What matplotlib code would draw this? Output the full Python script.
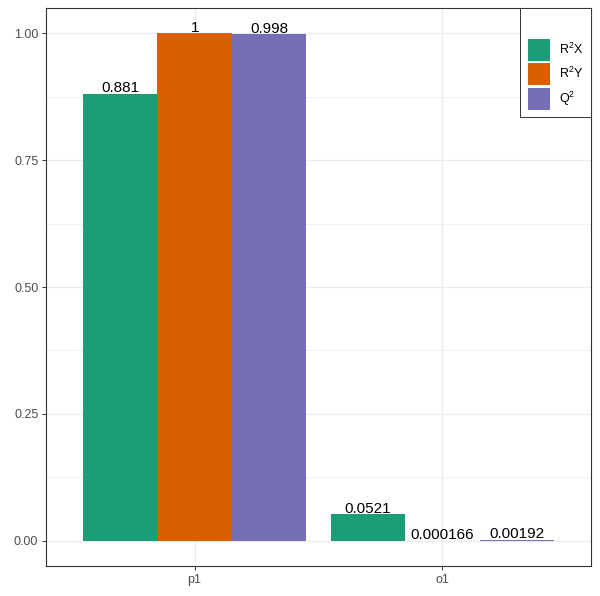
import matplotlib
matplotlib.use("Agg")
import matplotlib.pyplot as plt
from matplotlib.patches import Patch
import numpy as np

# data
components = ["p1", "o1"]
series = ["R$^2$X", "R$^2$Y", "Q$^2$"]
r2x = [0.881, 0.0521]
r2y = [1.0, 0.000166]
q2 = [0.998, 0.00192]
value_labels = [["0.881", "0.0521"], ["1", "0.000166"], ["0.998", "0.00192"]]
colors = ["#1B9E77", "#D95F02", "#7570B3"]

plt.rcParams["font.family"] = ["Liberation Sans", "DejaVu Sans"]
plt.rcParams["mathtext.default"] = "regular"

fig = plt.figure(figsize=(6.0, 5.96), dpi=100)
ax = fig.add_axes([46 / 600, 30 / 596, 545 / 600, 558 / 596])

x = np.arange(1, len(components) + 1)
w = 0.3
vals = [r2x, r2y, q2]
for i, (v, c) in enumerate(zip(vals, colors)):
    pos = x + (i - 1) * w
    ax.bar(pos, v, width=w, color=c, edgecolor="none", zorder=3)
    for px, py, lab in zip(pos, v, value_labels[i]):
        ax.annotate(lab, (px, py), xytext=(0, 1.2), textcoords="offset points",
                    ha="center", va="baseline", fontsize=11,
                    color="black", zorder=4)

ax.set_xlim(0.4, 2.6)
ax.set_ylim(-0.05, 1.05)
ax.set_xticks(x)
ax.set_xticklabels(components)
ax.set_yticks([0, 0.25, 0.5, 0.75, 1.0])
ax.set_yticklabels(["0.00", "0.25", "0.50", "0.75", "1.00"])
ax.set_yticks([0.125, 0.375, 0.625, 0.875], minor=True)

ax.grid(True, which="major", color="#EBEBEB", lw=0.8, zorder=0)
ax.grid(True, which="minor", axis="y", color="#EBEBEB", lw=0.5, zorder=0)
ax.tick_params(axis="both", which="major", length=3, width=0.7, color="#333333",
               labelcolor="#4D4D4D", labelsize=9, pad=2.5)
ax.tick_params(axis="both", which="minor", length=0)
for s in ax.spines.values():
    s.set_color("#333333")
    s.set_linewidth(0.8)

handles = [Patch(facecolor=c, edgecolor="none") for c in colors]
leg = ax.legend(handles, series, loc="upper right", borderaxespad=0,
                fontsize=9, handlelength=1.76, handleheight=2.33,
                labelspacing=0.2, handletextpad=0.75, borderpad=0.6,
                title=" ", title_fontsize=16, fancybox=False, framealpha=1)
leg.get_frame().set_edgecolor("#333333")
leg.get_frame().set_linewidth(0.7)

fig.savefig("out.png", dpi=100)
